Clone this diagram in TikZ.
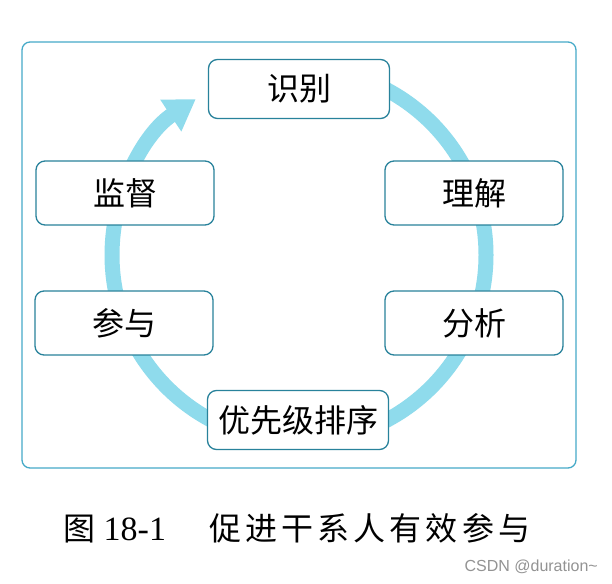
\documentclass[tikz,border=0pt]{standalone}
\usepackage{fontspec}
\setmainfont{Liberation Sans}
\newfontfamily\cjk{Noto Sans CJK SC}
\newfontfamily\serifnum{Liberation Serif}
\usetikzlibrary{arrows.meta}
\definecolor{band}{RGB}{143,219,236}
\definecolor{boxline}{RGB}{40,130,155}
\definecolor{frameline}{RGB}{70,170,200}
\begin{document}
\begin{tikzpicture}[x=1pt,y=1pt,
  stepbox/.style={draw=boxline, line width=1.3pt, fill=white, rounded corners=9pt,
    minimum width=178pt, minimum height=64pt, inner sep=0pt,
    font=\cjk\fontsize{32}{36}\selectfont},
  tbbox/.style={stepbox, minimum width=181pt, minimum height=59pt},
]
\useasboundingbox (0,0) rectangle (612,583);
\fill[white] (0,0) rectangle (612,583);
\draw[frameline, line width=1.3pt, rounded corners=8pt] (22,115) rectangle (576,541);
\coordinate (c) at (299,328);
\draw[band, line width=15pt, -{Triangle[length=30pt,width=36pt]}]
  (c) ++(90:187) arc[start angle=90, end angle=-236.5, radius=187];
\node[tbbox] (shibie) at (299,494) {识别};
\node[stepbox] (jiandu) at (125,390) {监督};
\node[stepbox] (lijie) at (474,390) {理解};
\node[stepbox] (canyu) at (124,260) {参与};
\node[stepbox] (fenxi) at (474,260) {分析};
\node[tbbox] (paixu) at (298,163) {优先级排序};
\node[font=\fontsize{32}{36}\selectfont, inner sep=0pt] (cap) at (297,55)
  {{\cjk 图}\hspace{8pt}{\serifnum\fontsize{34}{36}\selectfont 18-1}\hspace{43pt}{\cjk\addfontfeature{LetterSpace=13}促进干系人有效参与}};
\node[anchor=east, text=gray!85, font=\fontsize{16}{18}\selectfont, inner sep=0pt] (wm) at (598,16) {CSDN @duration\textasciitilde};
\end{tikzpicture}
\end{document}
